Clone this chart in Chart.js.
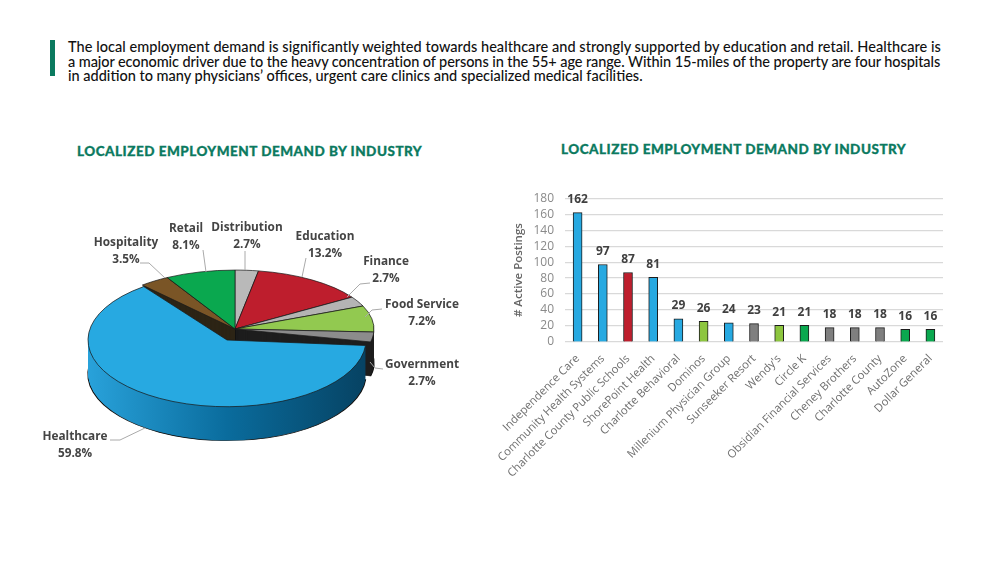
<!DOCTYPE html>
<html>
<head>
<meta charset="utf-8">
<title>Localized Employment Demand</title>
<script src="https://cdn.jsdelivr.net/npm/chart.js@4"></script>
<style>
    html, body { margin: 0; padding: 0; background: #fff; }
    body { width: 984px; height: 581px; position: relative; overflow: hidden; }
    .accent { position: absolute; left: 50px; top: 40px; width: 5px; height: 36px; background: #0b7a5f; }
    .intro { position: absolute; left: 68px; top: 40px; font: 500 14.5px/14.6px Lato, sans-serif; color: #111; white-space: nowrap; }
    .title { position: absolute; font: 900 13.5px Lato, sans-serif; color: #0b7a5f; letter-spacing: 0.5px; -webkit-text-stroke: 0.3px #0b7a5f; white-space: nowrap; }
    .box { position: absolute; }
</style>
</head>
<body>
<div class="accent"></div>
<div class="intro">
    <span style="letter-spacing:0.05px">The local employment demand is significantly weighted towards healthcare and strongly supported by education and retail. Healthcare is</span><br>
    <span style="letter-spacing:-0.08px">a major economic driver due to the heavy concentration of persons in the 55+ age range. Within 15-miles of the property are four hospitals</span><br>
    in addition to many physicians’ offices, urgent care clinics and specialized medical facilities.
</div>
<div class="title" style="left:77px;top:143px">LOCALIZED EMPLOYMENT DEMAND BY INDUSTRY</div>
<div class="title" style="left:561px;top:141px">LOCALIZED EMPLOYMENT DEMAND BY INDUSTRY</div>

<div class="box" style="left:0;top:159px;width:470px;height:340px"><canvas id="pieChart"></canvas></div>
<div class="box" style="left:480px;top:180px;width:480px;height:320px"><canvas id="barChart"></canvas></div>

<script>
// Dados
const pieLabels = ['Distribution', 'Education', 'Finance', 'Food Service', 'Government', 'Healthcare', 'Hospitality', 'Retail'];
const pieValues = [2.7, 13.2, 2.7, 7.2, 2.7, 59.8, 3.5, 8.1];

const barLabels = ['Independence Care', 'Community Health Systems', 'Charlotte County Public Schools', 'ShorePoint Health',
    'Charlotte Behavioral', 'Dominos', 'Millenium Physician Group', 'Sunseeker Resort', "Wendy's", 'Circle K',
    'Obsidian Financial Services', 'Cheney Brothers', 'Charlotte County', 'AutoZone', 'Dollar General'];
const barValues = [162, 97, 87, 81, 29, 26, 24, 23, 21, 21, 18, 18, 18, 16, 16];

// Cores
const BLUE = '#27a9e1', RED = '#be1e2d', LIME = '#8dc63f', GRAY = '#7f7f7f', GREEN = '#0aa84f';
const pieColors = ['#b9b9b9', RED, '#b4b4b4', '#92c950', '#8c8c8c', BLUE, '#7a5526', GREEN];
const wallColors = ['#1e1e1e', '#1e1e1e', '#1e1e1e', '#1e1e1e', '#1e1e1e', BLUE, '#2c2415', '#2c2415'];
const barColors = [BLUE, BLUE, RED, BLUE, BLUE, LIME, BLUE, GRAY, LIME, GREEN, GRAY, GRAY, GRAY, GREEN, GREEN];

// Posição das etiquetas da pizza (px do canvas) e linhas-guia
const pieLabelPos = [[247, 69], [325, 78], [386, 103], [422, 146], [422, 206], [75, 278], [126, 84], [186, 70]];
const pieLeaders = [
    [[245, 92], [245, 111]],
    [[306, 99], [302, 118]],
    [[370, 124], [360, 125], [347, 138]],
    [[382, 150], [372, 151], [365, 158]],
    [[383, 210], [375, 209], [370, 203]],
    [[110, 281], [120, 281], [145, 269]],
    [[140, 104], [149, 104], [165, 119]],
    [[203, 91], [206, 113]]
];

const HEALTH = pieLabels.indexOf('Healthcare');
const SQUASH = 0.424, SQUASH_HEALTH = 0.48;
const DEPTH = 34;
const EXPLODE = [-8, 11];
// A fatia da frente parece mais larga por causa da perspectiva
const SPREAD_START = 8 * Math.PI / 180, SPREAD_END = 5 * Math.PI / 180;

function paintArc(ctx, arc, fill, stroke, width) {
    const saved = arc.options;
    arc.options = {
        backgroundColor: fill, borderColor: stroke, borderWidth: width, borderAlign: 'center',
        borderJoinStyle: 'round', borderRadius: 0, borderDash: [], borderDashOffset: 0,
        offset: 0, spacing: 0, circular: true
    };
    arc.draw(ctx);
    arc.options = saved;
}

// Desenha a pizza com perspectiva: paredes em camadas e depois o topo achatado
function placeSlice(ctx, arc, i, dy) {
    const k = i === HEALTH ? SQUASH_HEALTH : SQUASH;
    if (i === HEALTH) ctx.translate(EXPLODE[0], EXPLODE[1]);
    ctx.translate(arc.x, arc.y + dy);
    ctx.scale(1, k);
    ctx.translate(-arc.x, -arc.y);
}

const pie3d = {
    id: 'pie3d',
    beforeDatasetsDraw(chart) {
        const ctx = chart.ctx;
        const arcs = chart.getDatasetMeta(0).data;
        const left = arcs[0].x - 150, right = arcs[0].x + 150;
        const sideFill = ctx.createLinearGradient(left, 0, right, 0);
        sideFill.addColorStop(0, '#2ba6df');
        sideFill.addColorStop(0.5, '#0a6c9d');
        sideFill.addColorStop(1, '#063f5e');

        const front = arcs[HEALTH];
        const a0 = front.startAngle, a1 = front.endAngle, c0 = front.circumference;
        front.startAngle = a0 - SPREAD_START;
        front.endAngle = a1 + SPREAD_END;
        front.circumference = c0 + SPREAD_START + SPREAD_END;

        const order = arcs.map((a, i) => i).filter(i => i !== HEALTH).concat(HEALTH);
        order.forEach(i => {
            const arc = arcs[i];
            for (let dy = DEPTH; dy > 0; dy--) {
                ctx.save();
                placeSlice(ctx, arc, i, dy);
                const fill = i === HEALTH ? sideFill : wallColors[i];
                if (dy === DEPTH) paintArc(ctx, arc, fill, '#111', 1.4);
                else paintArc(ctx, arc, fill, fill, 0);
                ctx.restore();
            }
        });
        order.forEach(i => {
            ctx.save();
            placeSlice(ctx, arcs[i], i, 0);
            paintArc(ctx, arcs[i], pieColors[i], '#1a1a1a', 1);
            ctx.restore();
        });

        front.startAngle = a0;
        front.endAngle = a1;
        front.circumference = c0;
        return false;
    },
    afterDraw(chart) {
        const ctx = chart.ctx;
        ctx.save();
        ctx.strokeStyle = '#aaa';
        ctx.lineWidth = 1;
        pieLeaders.forEach(line => {
            ctx.beginPath();
            line.forEach((p, j) => j ? ctx.lineTo(p[0], p[1]) : ctx.moveTo(p[0], p[1]));
            ctx.stroke();
        });
        ctx.fillStyle = '#444';
        ctx.font = '700 11.8px "Open Sans"';
        ctx.textAlign = 'center';
        ctx.textBaseline = 'middle';
        pieLabels.forEach((name, i) => {
            const [x, y] = pieLabelPos[i];
            ctx.fillText(name, x, y);
            ctx.fillText(pieValues[i].toFixed(1) + '%', x, y + 17);
        });
        ctx.restore();
    }
};

const barValueLabels = {
    id: 'barValueLabels',
    afterDatasetsDraw(chart) {
        const ctx = chart.ctx;
        ctx.save();
        ctx.fillStyle = '#404040';
        ctx.font = '700 12px "Open Sans"';
        ctx.textAlign = 'center';
        ctx.textBaseline = 'middle';
        chart.getDatasetMeta(0).data.forEach((bar, i) => {
            ctx.fillText(barValues[i], bar.x, bar.y - 13);
        });
        ctx.restore();
    }
};

new Chart(document.getElementById('pieChart'), {
    type: 'pie',
    plugins: [pie3d],
    data: {
        labels: pieLabels,
        datasets: [{ data: pieValues, backgroundColor: pieColors, radius: 139 }]
    },
    options: {
        responsive: true,
        maintainAspectRatio: false,
        animation: false,
        plugins: { legend: { display: false }, tooltip: { enabled: false } }
    }
});

new Chart(document.getElementById('barChart'), {
    type: 'bar',
    plugins: [barValueLabels],
    data: {
        labels: barLabels,
        datasets: [{
            data: barValues,
            backgroundColor: barColors,
            borderColor: '#1c1c1c',
            borderWidth: 1,
            barThickness: 9
        }]
    },
    options: {
        responsive: true,
        maintainAspectRatio: false,
        animation: false,
        layout: { padding: { top: 18, right: 17 } },
        plugins: { legend: { display: false }, tooltip: { enabled: false } },
        scales: {
            x: {
                afterFit: s => { s.height = 158; },
                grid: { display: false },
                border: { display: false },
                ticks: {
                    autoSkip: false, minRotation: 45, maxRotation: 45, padding: 2,
                    color: '#6f6f6f', font: { family: '"Open Sans"', size: 11.3 }
                }
            },
            y: {
                min: 0, max: 180,
                afterFit: s => { s.width = 85; },
                grid: { color: '#d9d9d9', lineWidth: 1.2, drawTicks: false },
                border: { display: false },
                ticks: {
                    stepSize: 20, padding: 11, autoSkip: false,
                    color: '#8a8a8a', font: { family: '"Open Sans"', size: 12 }
                },
                title: {
                    display: true, text: '# Active Postings', color: '#666',
                    font: { family: '"Open Sans"', size: 11.5, weight: '600' },
                    padding: { top: 32, bottom: 0 }
                }
            }
        }
    }
});
</script>
</body>
</html>
